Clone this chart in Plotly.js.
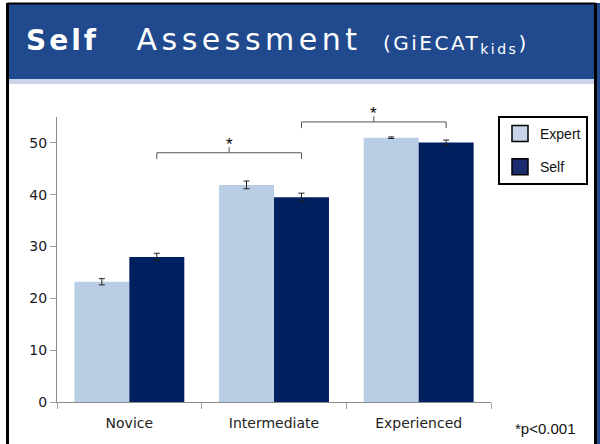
<!DOCTYPE html>
<html>
<head>
<meta charset="utf-8">
<script src="https://cdn.plot.ly/plotly-3.0.1.min.js"></script>
<style>
  html, body { margin: 0; padding: 0; background: #ffffff; }
  #chart { width: 600px; height: 444px; }
  #chart .gtitle { letter-spacing: 3px; }
</style>
</head>
<body>
<div id="chart"></div>
<script>
// ---- data ----
const categories = ['Novice', 'Intermediate', 'Experienced'];
const seriesNames = ['Expert', 'Self'];
const expertMeans = [23.2, 41.9, 51.0];
const expertErr = [0.6, 0.75, 0.15];
const selfMeans = [28.0, 39.5, 50.1];
const selfErr = [0.7, 0.8, 0.45];
const yTicks = [0, 10, 20, 30, 40, 50];
const comparisons = [['Novice', 'Intermediate'], ['Intermediate', 'Experienced']];
const comparisonMark = '*';
const noteText = '*p&lt;0.001';

// ---- styling ----
const expertColor = '#b9cde5';
const selfColor = '#002060';
const headerBlue = '#214a8e';
const yMax = 55;
const bargap = 0.24;
const bracketLevels = [48.1, 54.05];
const bracketDrop = 1.2;
const bracketTick = 1.1;

const W = 600, H = 444;
const M = { l: 57, r: 109, t: 117, b: 42 };
const pw = W - M.l - M.r, ph = H - M.t - M.b;
const px = p => (p - M.l) / pw;          // pixel x -> paper
const py = p => (H - M.b - p) / ph;      // pixel y -> paper
const vy = v => v / yMax;                // data y -> paper

const traces = [
  {
    type: 'bar', name: seriesNames[0], x: categories, y: expertMeans,
    marker: { color: expertColor },
    error_y: { type: 'data', array: expertErr, visible: true, color: '#222', thickness: 1, width: 3 },
    showlegend: false
  },
  {
    type: 'bar', name: seriesNames[1], x: categories, y: selfMeans,
    marker: { color: selfColor },
    error_y: { type: 'data', array: selfErr, visible: true, color: '#222', thickness: 1, width: 3 },
    showlegend: false
  },
  // legend entries (no data points)
  {
    type: 'scatter', mode: 'markers', name: seriesNames[0], x: [null], y: [null],
    marker: { symbol: 'square', size: 16, color: '#c6d3ea', line: { color: '#000', width: 1.5 } },
    legendgroup: 'a', hoverinfo: 'skip'
  },
  {
    type: 'scatter', mode: 'markers', name: seriesNames[1], x: [null], y: [null],
    marker: { symbol: 'square', size: 16, color: '#1c2a6e', line: { color: '#000', width: 1.5 } },
    legendgroup: 'b', hoverinfo: 'skip'
  }
];

const shapes = [];
const annotations = [];

// slide frame and header
shapes.push({ type: 'rect', xref: 'paper', yref: 'paper', layer: 'below',
  x0: px(8), x1: px(600), y0: py(79), y1: py(3), fillcolor: headerBlue, line: { width: 0 } });
shapes.push({ type: 'rect', xref: 'paper', yref: 'paper', layer: 'below',
  x0: px(8), x1: px(595), y0: py(84), y1: py(79), fillcolor: '#c9d3ea', line: { width: 0 } });
shapes.push({ type: 'line', xref: 'paper', yref: 'paper', layer: 'below',
  x0: px(7.5), x1: px(595.5), y0: py(3.5), y1: py(3.5), line: { color: '#000', width: 2 } });
shapes.push({ type: 'line', xref: 'paper', yref: 'paper', layer: 'below',
  x0: px(7.5), x1: px(7.5), y0: py(3), y1: py(446), line: { color: '#000', width: 3 } });
shapes.push({ type: 'line', xref: 'paper', yref: 'paper', layer: 'below',
  x0: px(598.5), x1: px(598.5), y0: py(3), y1: py(446), line: { color: headerBlue, width: 3 } });
shapes.push({ type: 'line', xref: 'paper', yref: 'paper', layer: 'below',
  x0: px(595.5), x1: px(595.5), y0: py(3), y1: py(446), line: { color: '#000', width: 3 } });

// significance brackets between Self bars
const selfOffset = (1 - bargap) / 4;
comparisons.forEach((pair, i) => {
  const xa = categories.indexOf(pair[0]) + selfOffset;
  const xb = categories.indexOf(pair[1]) + selfOffset;
  const xc = (xa + xb) / 2;
  const lv = bracketLevels[i];
  const ln = { color: '#555', width: 1 };
  shapes.push({ type: 'line', xref: 'x', yref: 'paper', x0: xa, x1: xb, y0: vy(lv), y1: vy(lv), line: ln });
  shapes.push({ type: 'line', xref: 'x', yref: 'paper', x0: xa, x1: xa, y0: vy(lv), y1: vy(lv - bracketDrop), line: ln });
  shapes.push({ type: 'line', xref: 'x', yref: 'paper', x0: xb, x1: xb, y0: vy(lv), y1: vy(lv - bracketDrop), line: ln });
  shapes.push({ type: 'line', xref: 'x', yref: 'paper', x0: xc, x1: xc, y0: vy(lv), y1: vy(lv + bracketTick), line: ln });
  annotations.push({ xref: 'x', yref: 'paper', x: xc, y: vy(lv + bracketTick), yanchor: 'bottom',
    yshift: -9, text: comparisonMark, showarrow: false,
    font: { family: 'Liberation Sans, Arial, sans-serif', size: 17, color: '#000' } });
});

// significance note
annotations.push({ xref: 'paper', yref: 'paper', x: px(513), y: py(428), xanchor: 'left', yanchor: 'middle',
  text: noteText, showarrow: false,
  font: { family: 'Liberation Sans, Arial, sans-serif', size: 15, color: '#111' } });

const layout = {
  width: W, height: H,
  margin: M,
  paper_bgcolor: '#ffffff', plot_bgcolor: '#ffffff',
  barmode: 'group', bargap: bargap, bargroupgap: 0,
  title: {
    text: '<span style="font-size:28px"><b>Self</b></span>&nbsp;&nbsp; ' +
          '<span style="letter-spacing:4.5px">Assessment</span> ' +
          '<span style="font-size:20px;letter-spacing:2.5px"> (GiECAT<sub>kids</sub>)</span>',
    xref: 'container', yref: 'container', x: 26 / W, xanchor: 'left', y: 1 - 39 / H, yanchor: 'middle',
    font: { family: 'DejaVu Sans, sans-serif', size: 30, color: '#ffffff' }
  },
  xaxis: {
    type: 'category', showline: true, linecolor: '#8c8c8c', linewidth: 1,
    ticks: 'outside', tickson: 'boundaries', ticklen: 6, tickcolor: '#a0a0a0',
    ticklabelstandoff: 8,
    tickfont: { family: 'DejaVu Sans, sans-serif', size: 14, color: '#222' },
    showgrid: false, zeroline: false, fixedrange: true
  },
  yaxis: {
    range: [0, yMax], tickvals: yTicks, ticktext: yTicks.map(String),
    showline: true, linecolor: '#8c8c8c', linewidth: 1,
    ticks: 'outside', ticklen: 6, tickcolor: '#a0a0a0',
    tickfont: { family: 'DejaVu Sans, sans-serif', size: 14, color: '#1a1a1a' },
    showgrid: false, zeroline: false, fixedrange: true
  },
  legend: {
    x: px(498), xanchor: 'left', y: py(116), yanchor: 'top',
    bgcolor: '#ffffff', bordercolor: '#000', borderwidth: 2,
    traceorder: 'grouped', tracegroupgap: 12, itemsizing: 'trace',
    font: { family: 'Liberation Sans, Arial, sans-serif', size: 14, color: '#111' }
  },
  shapes: shapes,
  annotations: annotations,
  showlegend: true
};

Plotly.newPlot('chart', traces, layout, { staticPlot: true, displayModeBar: false });
</script>
</body>
</html>
